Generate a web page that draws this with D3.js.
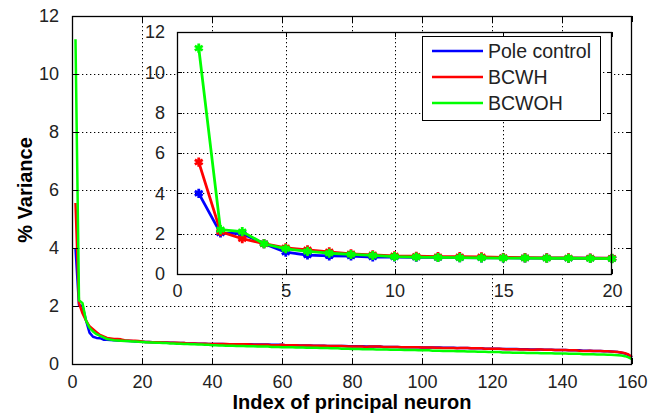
<!DOCTYPE html>
<html>
<head>
<meta charset="utf-8">
<script src="https://cdn.jsdelivr.net/npm/d3@7"></script>
<style>
  body { margin: 0; background: #fff; }
  svg { display: block; }
  text { font-family: "Liberation Sans", Arial, Helvetica, sans-serif; }
</style>
</head>
<body>
<svg id="chart" width="659" height="417"></svg>
<script>
// ---------------- DATA ----------------
const seriesNames = ["Pole control", "BCWH", "BCWOH"];
const seriesColors = ["#0000ff", "#ff0000", "#00ff00"];

const poleControl = [
  4.0, 2.03, 2.0, 1.5, 1.08, 0.94, 0.9, 0.89, 0.84, 0.84, 0.83, 0.82, 0.81, 0.8, 0.8, 0.79, 0.79, 0.78, 0.78, 0.77,
  0.76,0.76,0.75,0.75,0.74,0.74,0.74,0.73,0.73,0.72,0.72,0.72,0.71,0.71,0.71,0.70,0.70,0.70,0.69,0.69,
  0.69,0.69,0.69,0.68,0.68,0.68,0.68,0.68,0.68,0.68,0.68,0.67,0.67,0.67,0.67,0.67,0.66,0.66,0.66,0.66,
  0.65,0.65,0.65,0.65,0.64,0.64,0.64,0.64,0.63,0.63,0.63,0.63,0.62,0.62,0.62,0.62,0.62,0.62,0.61,0.61,
  0.61,0.61,0.61,0.60,0.60,0.60,0.60,0.60,0.59,0.59,0.59,0.59,0.59,0.58,0.58,0.58,0.58,0.58,0.58,0.57,
  0.57,0.57,0.57,0.57,0.57,0.56,0.56,0.56,0.56,0.55,0.55,0.55,0.55,0.54,0.54,0.54,0.54,0.53,0.53,0.53,
  0.53,0.53,0.52,0.52,0.52,0.52,0.52,0.51,0.51,0.51,0.50,0.50,0.50,0.50,0.49,0.49,0.49,0.48,0.48,0.48,
  0.48,0.47,0.47,0.47,0.47,0.46,0.46,0.46,0.45,0.45,0.45,0.44,0.44,0.43,0.42,0.41,0.39,0.36,0.31,0.22
];
const bcwh = [
  5.55, 2.1, 1.75, 1.5, 1.3, 1.2, 1.1, 1.0, 0.95, 0.9, 0.88, 0.86, 0.86, 0.85, 0.82, 0.81, 0.8, 0.8, 0.79, 0.78,
  0.76,0.76,0.75,0.75,0.75,0.74,0.74,0.73,0.73,0.73,0.72,0.72,0.71,0.71,0.71,0.70,0.70,0.70,0.69,0.69,
  0.69,0.69,0.69,0.69,0.68,0.68,0.68,0.68,0.68,0.68,0.67,0.66,0.66,0.66,0.66,0.66,0.65,0.65,0.65,0.66,
  0.65,0.65,0.65,0.65,0.64,0.64,0.64,0.64,0.63,0.63,0.63,0.63,0.62,0.62,0.62,0.62,0.62,0.61,0.60,0.60,
  0.60,0.60,0.60,0.59,0.60,0.60,0.60,0.60,0.59,0.59,0.59,0.59,0.59,0.58,0.58,0.58,0.58,0.58,0.58,0.57,
  0.57,0.57,0.57,0.56,0.56,0.55,0.55,0.55,0.55,0.54,0.55,0.55,0.55,0.54,0.54,0.54,0.54,0.53,0.53,0.53,
  0.53,0.53,0.52,0.51,0.51,0.51,0.51,0.50,0.50,0.50,0.49,0.49,0.50,0.50,0.49,0.49,0.49,0.48,0.48,0.48,
  0.48,0.47,0.47,0.47,0.46,0.45,0.45,0.46,0.45,0.45,0.45,0.44,0.44,0.43,0.42,0.41,0.40,0.37,0.33,0.24
];
const bcwoh = [
  11.2, 2.2, 2.1, 1.5, 1.25, 1.12, 1.03, 0.97, 0.92, 0.86, 0.84, 0.82, 0.81, 0.8, 0.79, 0.79, 0.78, 0.78, 0.77, 0.76,
  0.75,0.74,0.74,0.73,0.73,0.72,0.72,0.71,0.71,0.70,0.70,0.69,0.69,0.68,0.68,0.67,0.67,0.66,0.66,0.65,
  0.65,0.64,0.64,0.63,0.63,0.63,0.62,0.62,0.62,0.61,0.61,0.61,0.60,0.60,0.60,0.60,0.59,0.59,0.59,0.58,
  0.58,0.58,0.58,0.57,0.57,0.57,0.56,0.56,0.56,0.56,0.55,0.55,0.55,0.54,0.54,0.54,0.53,0.53,0.53,0.52,
  0.52,0.52,0.51,0.51,0.51,0.51,0.50,0.50,0.50,0.50,0.49,0.49,0.49,0.49,0.48,0.48,0.48,0.48,0.47,0.47,
  0.47,0.47,0.46,0.46,0.46,0.45,0.45,0.45,0.45,0.44,0.44,0.44,0.43,0.43,0.43,0.42,0.42,0.42,0.41,0.41,
  0.41,0.41,0.40,0.40,0.40,0.39,0.39,0.39,0.39,0.38,0.38,0.38,0.38,0.37,0.37,0.37,0.37,0.36,0.36,0.36,
  0.36,0.35,0.35,0.35,0.35,0.34,0.34,0.34,0.34,0.33,0.33,0.33,0.32,0.32,0.31,0.30,0.29,0.27,0.23,0.17
];
const neuronIndex = d3.range(1, poleControl.length + 1);

const mainXTicks = [0, 20, 40, 60, 80, 100, 120, 140, 160];
const mainYTicks = [0, 2, 4, 6, 8, 10, 12];
const insetXTicks = [0, 5, 10, 15, 20];
const insetYTicks = [0, 2, 4, 6, 8, 10, 12];
const insetCount = 20;

const xLabel = "Index of principal neuron";
const yLabel = "% Variance";

// ---------------- DRAW ----------------
const svg = d3.select("#chart");
const allSeries = [poleControl, bcwh, bcwoh];

function drawPanel(g, box, xDomain, yDomain, xTicks, yTicks, n, opts) {
  const x = d3.scaleLinear().domain(xDomain).range([box.x0, box.x1]);
  const y = d3.scaleLinear().domain(yDomain).range([box.y1, box.y0]);

  g.append("rect").attr("x", box.x0).attr("y", box.y0)
    .attr("width", box.x1 - box.x0).attr("height", box.y1 - box.y0)
    .attr("fill", "#fff");

  // dotted grid
  const grid = g.append("g").attr("stroke", "#000").attr("stroke-width", 1)
    .attr("stroke-dasharray", "1.3,2.7");
  xTicks.filter(t => t > xDomain[0] && t < xDomain[1]).forEach(t => {
    const px = Math.round(x(t)) + 0.5;
    grid.append("line").attr("x1", px).attr("x2", px)
      .attr("y1", box.y0 + 2).attr("y2", box.y1);
  });
  yTicks.filter(t => t > yDomain[0] && t < yDomain[1]).forEach(t => {
    const py = Math.round(y(t)) + 0.5;
    grid.append("line").attr("y1", py).attr("y2", py)
      .attr("x1", box.x0 + 2).attr("x2", box.x1);
  });

  // lines
  const line = d3.line().x((d, i) => x(neuronIndex[i])).y(d => y(d));
  allSeries.forEach((s, k) => {
    const data = s.slice(0, n);
    g.append("path").datum(data).attr("d", line)
      .attr("fill", "none").attr("stroke", seriesColors[k])
      .attr("stroke-width", opts.lw).attr("stroke-linejoin", "round");
    if (opts.markers) {
      const sym = d3.symbol().type(d3.symbolAsterisk).size(58);
      g.append("g").selectAll("path").data(data).join("path")
        .attr("d", sym)
        .attr("transform", (d, i) => `translate(${x(neuronIndex[i])},${y(d)})`)
        .attr("fill", "none").attr("stroke", seriesColors[k]).attr("stroke-width", 2.8);
    }
  });

  // axes (ticks inward on all four sides)
  const tl = opts.tick;
  const ax = g.append("g").attr("shape-rendering", "crispEdges");
  ax.append("g").attr("transform", `translate(0,${box.y1})`)
    .call(d3.axisBottom(x).tickValues(xTicks).tickSizeInner(-tl).tickSizeOuter(0).tickPadding(tl + 5));
  ax.append("g").attr("transform", `translate(0,${box.y0})`)
    .call(d3.axisTop(x).tickValues(xTicks).tickSizeInner(-tl).tickSizeOuter(0).tickFormat(""));
  ax.append("g").attr("transform", `translate(${box.x0},0)`)
    .call(d3.axisLeft(y).tickValues(yTicks).tickSizeInner(-tl).tickSizeOuter(0).tickPadding(tl + 7));
  ax.append("g").attr("transform", `translate(${box.x1},0)`)
    .call(d3.axisRight(y).tickValues(yTicks).tickSizeInner(-tl).tickSizeOuter(0).tickFormat(""));
  ax.selectAll(".domain").remove();
  ax.selectAll("text").attr("font-size", 18).attr("fill", "#222")
    .attr("font-family", "'Liberation Sans', Arial, sans-serif");

  g.append("rect").attr("x", box.x0 + 0.5).attr("y", box.y0 + 0.5)
    .attr("width", box.x1 - box.x0 - 1).attr("height", box.y1 - box.y0)
    .attr("fill", "none").attr("stroke", "#000").attr("stroke-width", 1.3);
  return { x, y };
}

const mainBox = { x0: 72, x1: 632, y0: 16, y1: 364 };
drawPanel(svg.append("g"), mainBox, [0, 160], [0, 12], mainXTicks, mainYTicks, poleControl.length,
  { lw: 2.5, markers: false, tick: 6 });

const insetBox = { x0: 177, x1: 612, y0: 32, y1: 274 };
drawPanel(svg.append("g"), insetBox, [0, 20], [0, 12], insetXTicks, insetYTicks, insetCount,
  { lw: 2.8, markers: true, tick: 5 });

// axis titles
svg.append("text").attr("x", (mainBox.x0 + mainBox.x1) / 2).attr("y", 409)
  .attr("text-anchor", "middle").attr("font-size", 20).attr("font-weight", "bold")
  .text(xLabel);
svg.append("text").attr("transform", `translate(32,${(mainBox.y0 + mainBox.y1) / 2}) rotate(-90)`)
  .attr("text-anchor", "middle").attr("font-size", 20).attr("font-weight", "bold")
  .text(yLabel);

// legend
const lg = svg.append("g");
lg.append("rect").attr("x", 422.5).attr("y", 36.5).attr("width", 178).attr("height", 84)
  .attr("fill", "#fff").attr("stroke", "#000").attr("stroke-width", 1);
seriesNames.forEach((name, i) => {
  const yy = 51 + i * 26;
  lg.append("line").attr("x1", 432).attr("x2", 483).attr("y1", yy).attr("y2", yy)
    .attr("stroke", seriesColors[i]).attr("stroke-width", 2.6);
  lg.append("text").attr("x", 488).attr("y", yy + 7).attr("font-size", 19.5).attr("fill", "#222")
    .text(name);
});
</script>
</body>
</html>
